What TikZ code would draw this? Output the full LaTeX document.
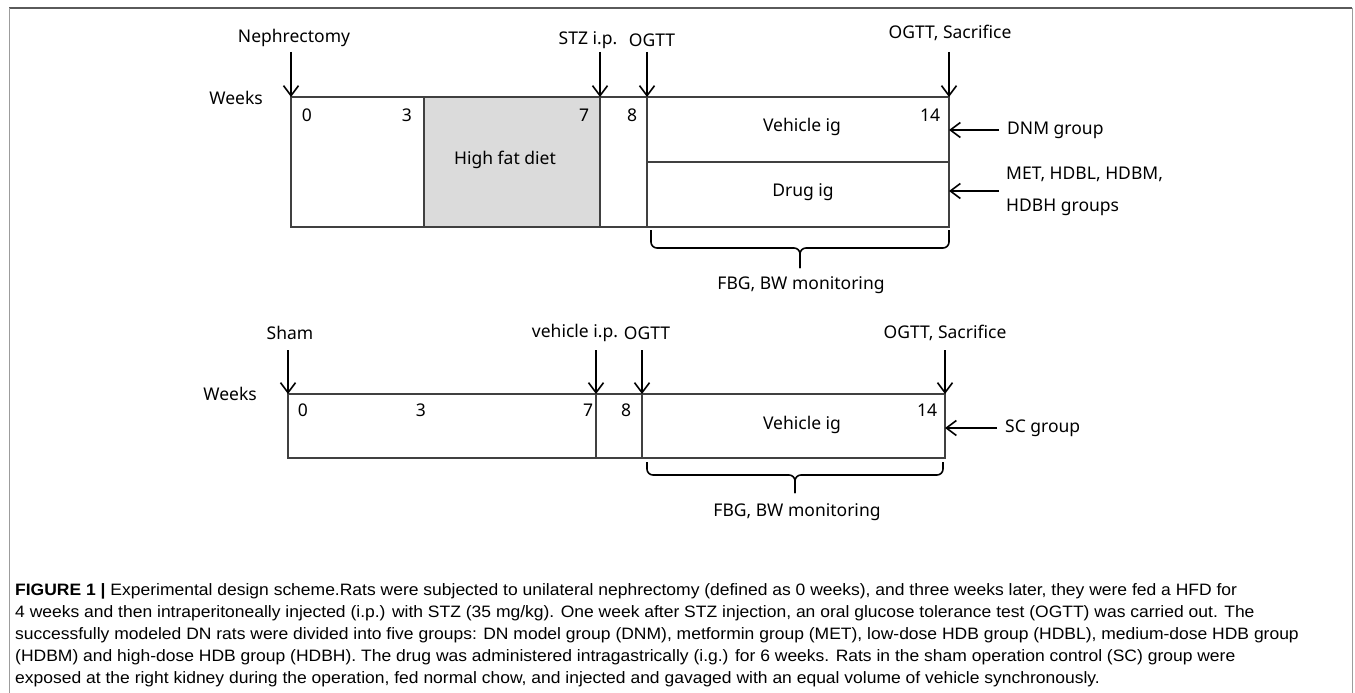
\documentclass[tikz,border=0pt]{standalone}
\usepackage{fontspec}
\setmainfont[FakeStretch=1.06]{Liberation Sans}
\newfontfamily\diagfont{Noto Sans}
\usetikzlibrary{arrows.meta,positioning}
\definecolor{hfdgray}{HTML}{DBDBDB}
\definecolor{framegray}{HTML}{5A5A5A}
\definecolor{boxline}{HTML}{404040}
\tikzset{
  box/.style={draw=boxline,line width=1.3pt,inner sep=0pt,outer sep=0pt,anchor=north west},
  lbl/.style={font=\diagfont\fontsize{17.5}{32}\selectfont,inner sep=0pt},
  tick/.style={line width=1.6pt,-{Straight Barb[length=10pt,width=15pt]}},
  bracket/.style={line width=1.6pt,rounded corners=6pt},
}

\begin{document}
\begin{tikzpicture}[x=1pt,y=-1pt]
\useasboundingbox (0,0) rectangle (1355,693);
\draw[framegray,line width=2pt] (9,8) -- (1352,8);
\draw[framegray!60,line width=1pt] (9,8) -- (9,693) (1352,8) -- (1352,693);

% top timeline
\node[box,minimum width=133,minimum height=130] (pre) at (291,97) {};
\node[box,fill=hfdgray,minimum width=176,minimum height=130] (hfd) at (pre.north east) {};
\node[box,minimum width=47,minimum height=130] (gap) at (hfd.north east) {};
\node[box,minimum width=302,minimum height=65] (veh) at (gap.north east) {};
\node[box,minimum width=302,minimum height=65] (drug) at (veh.south west) {};
\node[lbl] (hfdtxt) at (505,160) {High fat diet};
\node[lbl] (vehtxt) at (802,127) {Vehicle ig};
\node[lbl] (drugtxt) at (803,192) {Drug ig};
\node[lbl,anchor=east] (weeks) at (263,98) {Weeks};
\node[lbl] (w0) at (307,115) {0};
\node[lbl] (w3) at (407,115) {3};
\node[lbl] (w7) at (584,115) {7};
\node[lbl] (w8) at (632,115) {8};
\node[lbl] (w14) at (930,115) {14};
\node[lbl] (neph) at (294,38) {Nephrectomy};
\node[lbl] (stz) at (588,40) {STZ i.p.};
\node[lbl] (ogtt) at (652,40) {OGTT};
\node[lbl] (sacr) at (950,33) {OGTT, Sacrifice};
\draw[tick] ([yshift=45pt]pre.north west) -- (pre.north west);
\draw[tick] ([yshift=45pt]hfd.north east) -- (hfd.north east);
\draw[tick] ([yshift=45pt]gap.north east) -- (gap.north east);
\draw[tick] ([yshift=45pt]veh.north east) -- (veh.north east);
\node[lbl,anchor=west] (dnm) at (1007,130) {DNM group};
\node[lbl,anchor=west,align=left] (met) at (1006,191) {MET, HDBL, HDBM,\\HDBH groups};
\draw[tick] ([xshift=-8pt]dnm.west) -- (dnm.west -| veh.east);
\draw[tick] ([xshift=-7pt]met.west) -- (met.west -| drug.east);
\draw[bracket] (651,230) -- (651,248) -- (800,248) -- (800,268);
\draw[bracket] (949,230) -- (949,248) -- (800,248) -- (800,268);
\node[lbl] (mon) at (801,285) {FBG, BW monitoring};

% sham timeline
\node[box,minimum width=308,minimum height=64] (spre) at (288,394) {};
\node[box,minimum width=46,minimum height=64] (sgap) at (spre.north east) {};
\node[box,minimum width=303,minimum height=64] (sveh) at (sgap.north east) {};
\node[lbl] (svehtxt) at (802,425) {Vehicle ig};
\node[lbl,anchor=east] (sweeks) at (257,394) {Weeks};
\node[lbl] (s0) at (303,410) {0};
\node[lbl] (s3) at (421,410) {3};
\node[lbl] (s7) at (588,410) {7};
\node[lbl] (s8) at (626,410) {8};
\node[lbl] (s14) at (927,410) {14};
\node[lbl] (sham) at (290,333) {Sham};
\node[lbl] (vip) at (575,333) {vehicle i.p.};
\node[lbl] (sogtt) at (647,333) {OGTT};
\node[lbl] (ssacr) at (945,333) {OGTT, Sacrifice};
\draw[tick] ([yshift=44pt]spre.north west) -- (spre.north west);
\draw[tick] ([yshift=44pt]spre.north east) -- (spre.north east);
\draw[tick] ([yshift=44pt]sgap.north east) -- (sgap.north east);
\draw[tick] ([yshift=44pt]sveh.north east) -- (sveh.north east);
\node[lbl,anchor=west] (sc) at (1005,428) {SC group};
\draw[tick] ([xshift=-8pt]sc.west) -- (sc.west -| sveh.east);
\draw[bracket] (647,462) -- (647,475) -- (795,475) -- (795,493);
\draw[bracket] (943,462) -- (943,475) -- (795,475) -- (795,493);
\node[lbl] (smon) at (797,512) {FBG, BW monitoring};

% caption
\node[anchor=north west,inner sep=0pt,align=left,font=\fontsize{16.5}{22}\selectfont] (cap) at (15,583)
{\textbf{FIGURE 1 |} Experimental design scheme.Rats were subjected to unilateral nephrectomy (defined as 0 weeks), and three weeks later, they were fed a HFD for\\
4 weeks and then intraperitoneally injected (i.p.) with STZ (35 mg/kg). One week after STZ injection, an oral glucose tolerance test (OGTT) was carried out. The\\
successfully modeled DN rats were divided into five groups: DN model group (DNM), metformin group (MET), low-dose HDB group (HDBL), medium-dose HDB group\\
(HDBM) and high-dose HDB group (HDBH). The drug was administered intragastrically (i.g.) for 6 weeks. Rats in the sham operation control (SC) group were\\
exposed at the right kidney during the operation, fed normal chow, and injected and gavaged with an equal volume of vehicle synchronously.};
\end{tikzpicture}
\end{document}
